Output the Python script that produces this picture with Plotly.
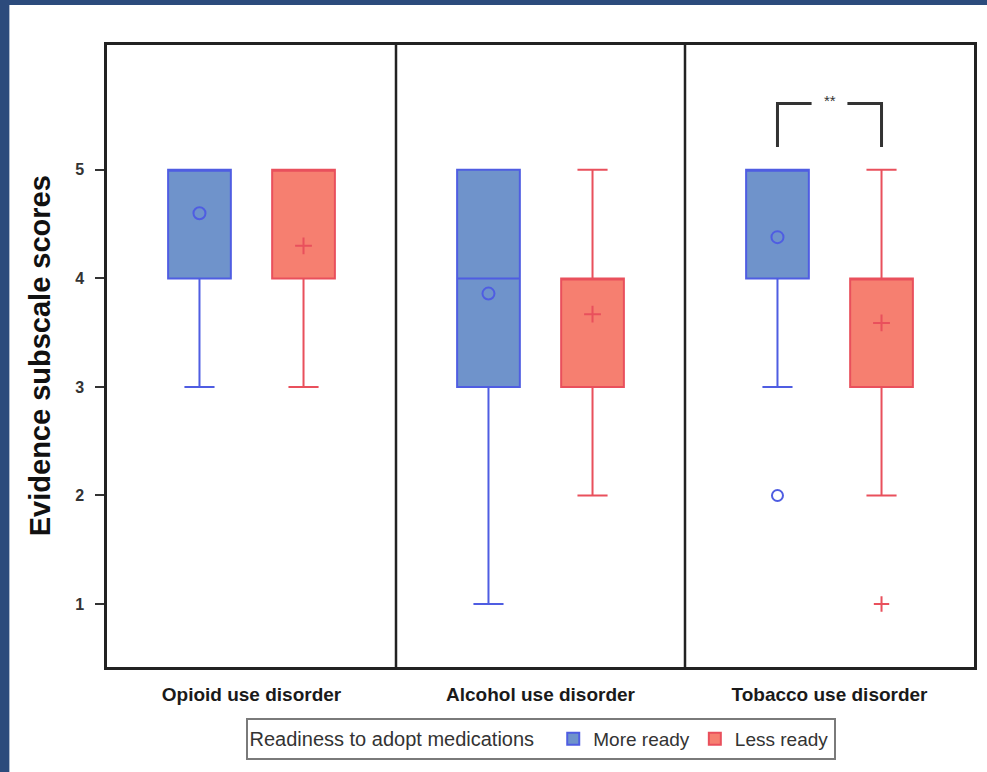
import plotly.graph_objects as go

# ---- data ----
categories = ["Opioid use disorder", "Alcohol use disorder", "Tobacco use disorder"]
groups = ["More ready", "Less ready"]

more_q1 = [4, 3, 4]
more_median = [5, 4, 5]
more_q3 = [5, 5, 5]
more_low = [3, 1, 3]
more_high = [5, 5, 5]
more_mean = [4.6, 3.86, 4.38]
more_outliers_cat = [2]
more_outliers_val = [2]

less_q1 = [4, 3, 3]
less_median = [5, 4, 4]
less_q3 = [5, 4, 4]
less_low = [3, 2, 2]
less_high = [5, 5, 5]
less_mean = [4.3, 3.67, 3.59]
less_outliers_cat = [2]
less_outliers_val = [1]

y_ticks = [1, 2, 3, 4, 5]
sig_category = 2
sig_label = "**"
sig_y_low = 5.21
sig_y_high = 5.61

# ---- styling ----
FONT = "Liberation Sans, Arial, sans-serif"
OFF = 0.18
BOXW = 0.217
BG = "#2c4b7c"
blue_fill = "#6f93cb"
blue_line = "#4f5de2"
red_fill = "#f67f70"
red_line = "#e9505c"

fig = go.Figure()

def add_group(offset, q1, med, q3, lo, hi, mean, ocat, oval, name, fill, line, mean_sym, out_sym):
    xs = [i + offset for i in range(len(categories))]
    fig.add_trace(go.Box(
        x=xs, q1=q1, median=med, q3=q3, lowerfence=lo, upperfence=hi,
        name=name, fillcolor=fill, line=dict(color=line, width=2),
        width=BOXW, whiskerwidth=0.48, boxpoints=False, showlegend=True,
        hoverinfo="skip",
    ))
    fig.add_trace(go.Scatter(
        x=xs, y=mean, mode="markers", showlegend=False, hoverinfo="skip",
        marker=dict(symbol=mean_sym, size=12,
                    color=line, line=dict(color=line, width=2)),
    ))
    fig.add_trace(go.Scatter(
        x=[c + offset for c in ocat], y=oval, mode="markers", showlegend=False,
        hoverinfo="skip",
        marker=dict(symbol=out_sym, size=11, color=line, line=dict(color=line, width=2)),
    ))

add_group(-OFF, more_q1, more_median, more_q3, more_low, more_high, more_mean,
          more_outliers_cat, more_outliers_val, groups[0], blue_fill, blue_line,
          "circle-open", "circle-open")
add_group(OFF, less_q1, less_median, less_q3, less_low, less_high, less_mean,
          less_outliers_cat, less_outliers_val, groups[1], red_fill, red_line,
          "cross-thin-open", "cross-thin-open")

shapes = []
# white page panel on the dark blue background
shapes.append(dict(type="rect", xref="paper", yref="paper",
                   x0=-0.1126, x1=1.02, y0=-0.17, y1=1.0643,
                   fillcolor="white", line=dict(width=0), layer="below"))
# panel dividers
for d in [0.5, 1.5]:
    shapes.append(dict(type="line", xref="x", yref="paper", x0=d, x1=d, y0=0, y1=1,
                       line=dict(color="#222222", width=2.5)))
# significance bracket
gap = 0.062
xl = sig_category - OFF
xr = sig_category + OFF
xc = sig_category
br = dict(color="#333333", width=3)
shapes.append(dict(type="path", xref="x", yref="y",
                   path=f"M {xl},{sig_y_low} L {xl},{sig_y_high} L {xc-gap},{sig_y_high}",
                   line=br))
shapes.append(dict(type="path", xref="x", yref="y",
                   path=f"M {xc+gap},{sig_y_high} L {xr},{sig_y_high} L {xr},{sig_y_low}",
                   line=br))

annotations = [
    dict(text=sig_label, x=xc, y=sig_y_high, xref="x", yref="y", showarrow=False,
         font=dict(family=FONT, size=15, color="#333333"), yshift=3),
    dict(text="<b>Evidence subscale scores</b>", x=-0.077, y=0.5, xref="paper", yref="paper",
         textangle=-90, showarrow=False, xanchor="center", yanchor="middle",
         font=dict(family=FONT, size=29, color="#111111")),
]

fig.update_layout(
    width=987, height=772,
    paper_bgcolor=BG, plot_bgcolor="white",
    margin=dict(l=107, r=10, t=45, b=105),
    shapes=shapes, annotations=annotations,
    font=dict(family=FONT, color="#222222"),
    xaxis=dict(range=[-0.5, 2.5], tickmode="array", tickvals=[0, 1, 2],
               ticktext=[f"<b>{c}</b>" for c in categories],
               tickfont=dict(family=FONT, size=19, color="#1a1a1a"),
               ticks="outside", ticklen=8, tickcolor="rgba(0,0,0,0)",
               showline=True, linecolor="#222222", linewidth=2.5, mirror=True,
               showgrid=False, zeroline=False),
    yaxis=dict(range=[0.42, 6.15], tickmode="array", tickvals=y_ticks,
               ticktext=[f"<b>{t}</b>" for t in y_ticks],
               tickfont=dict(family=FONT, size=16, color="#333333"),
               ticks="outside", ticklen=9, tickwidth=2, tickcolor="#333333",
               ticklabelstandoff=8,
               showline=True, linecolor="#222222", linewidth=2.5, mirror=True,
               showgrid=False, zeroline=False),
    legend=dict(orientation="h", x=0.5, xanchor="center", y=-0.082, yanchor="top",
                bgcolor="white", bordercolor="#7a7a7a", borderwidth=2,
                font=dict(family=FONT, size=19, color="#333333"),
                title=dict(text="Readiness to adopt medications&nbsp;&nbsp;", side="left",
                           font=dict(family=FONT, size=20, color="#333333")),
                itemwidth=30, tracegroupgap=0),
    showlegend=True,
)

fig.write_html(
    "out.html",
    config={"displayModeBar": False},
    post_script=f"document.body.style.margin='0';document.body.style.background='{BG}';",
)
